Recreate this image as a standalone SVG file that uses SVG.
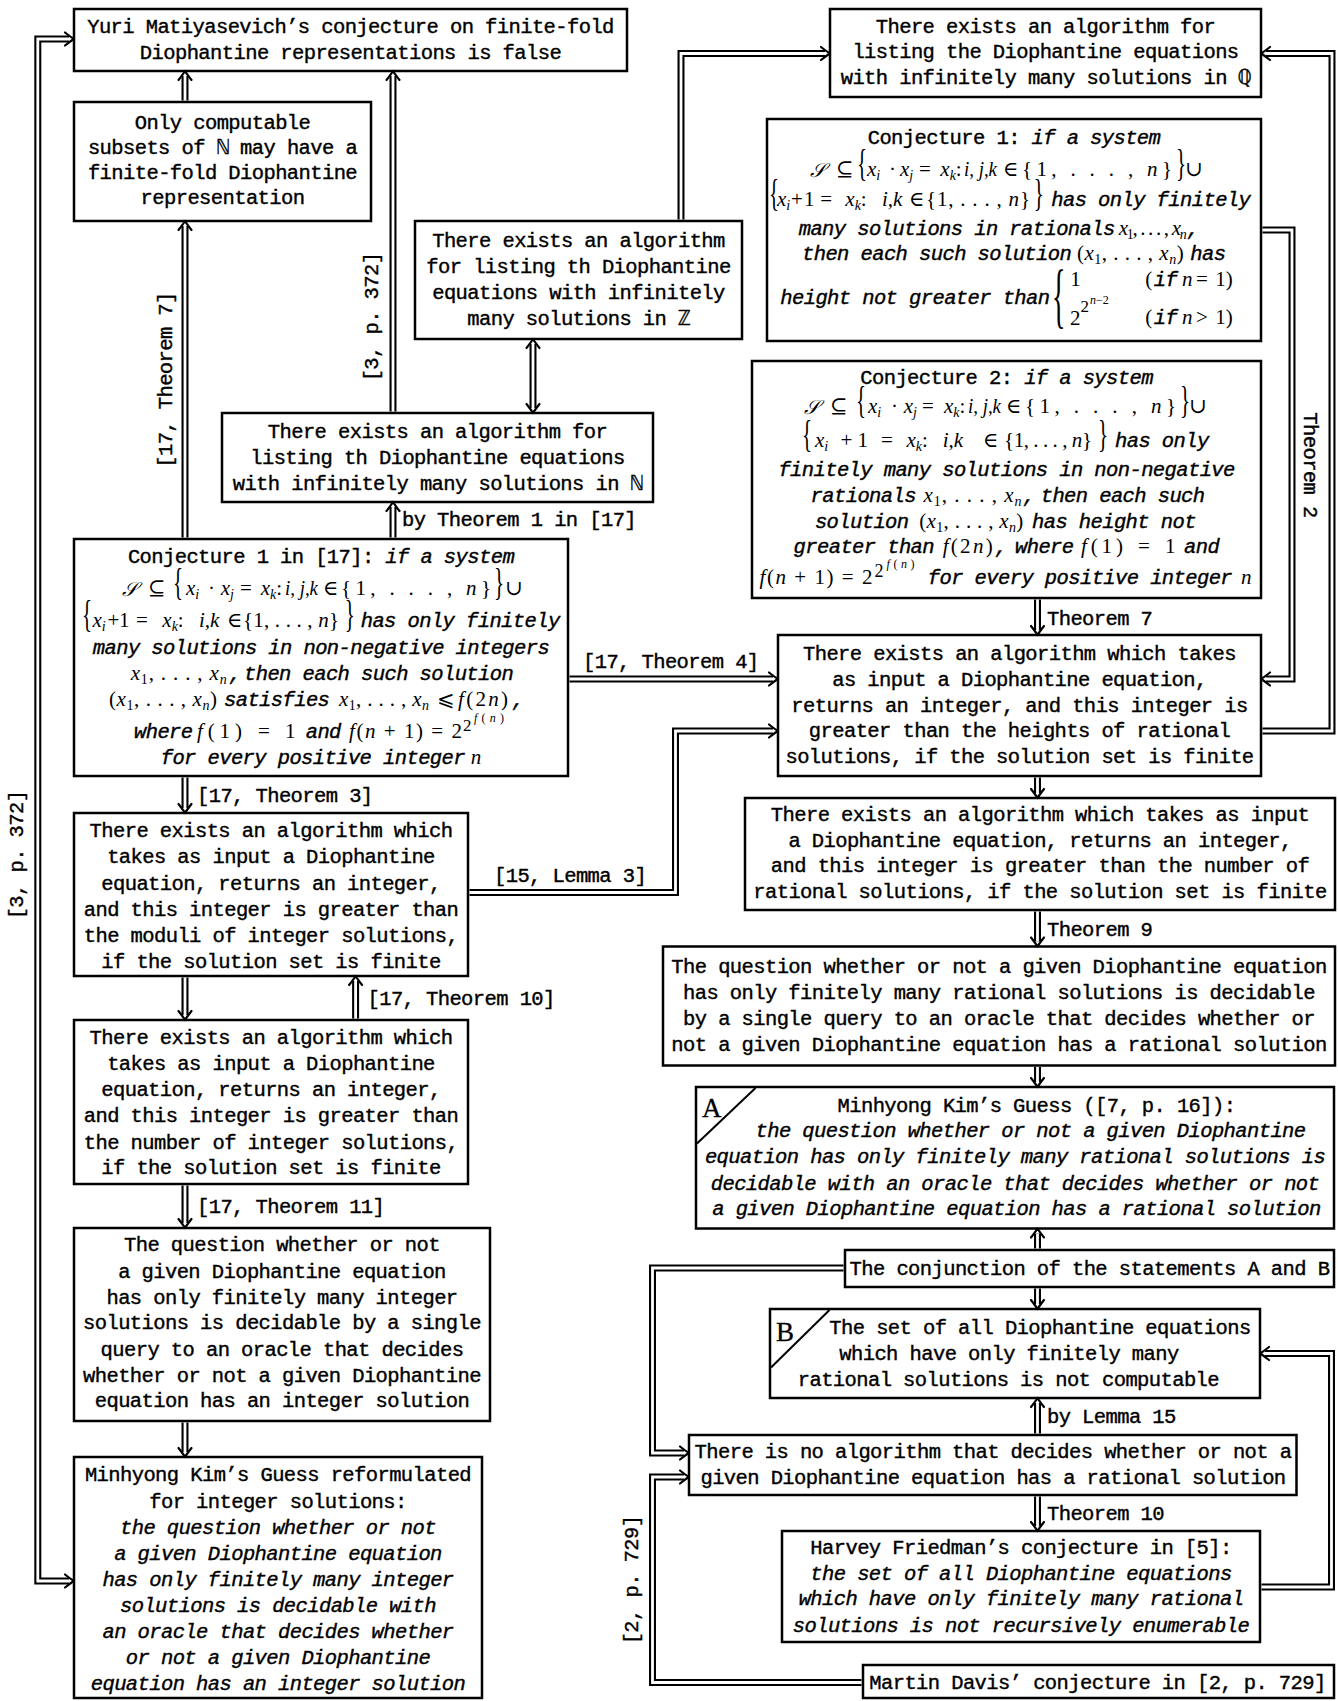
<svg xmlns="http://www.w3.org/2000/svg" xmlns:xlink="http://www.w3.org/1999/xlink" width="1338" height="1701" viewBox="0 0 1338 1701">
<style>
.box{fill:#fff;stroke:#000;stroke-width:2.5}
.t{font-family:"Liberation Mono","DejaVu Sans Mono",monospace;font-size:20.5px;letter-spacing:-0.6px;fill:#000;stroke:#000;stroke-width:0.4}
.c{text-anchor:middle}
.i{font-style:italic}
.m{font-family:"Liberation Serif","DejaVu Serif",serif;font-size:21px;fill:#000}
.mi{font-style:italic}
.s{font-size:14px}
.cal{font-family:"DejaVu Serif","DejaVu Sans",serif;font-size:20px;font-style:italic}
.dl{fill:none;stroke:#000;stroke-width:7}
.dw{fill:none;stroke:#fff;stroke-width:2.8}
.ah{fill:none;stroke:#000;stroke-width:2.2;stroke-linecap:round;stroke-linejoin:round}
.thin{stroke:#000;stroke-width:2}
.big{font-family:"Liberation Serif",serif;font-size:27px;fill:#000;stroke:#000;stroke-width:0.3}
</style>
<defs>
<path id="ah" class="ah" d="M-9,-6.5 Q-3,-1.8 0,0 Q-3,1.8 -9,6.5"/>
</defs>
<rect width="1338" height="1701" fill="#fff"/>

<g id="n-yuri">
<rect class="box" x="74" y="9" width="553" height="62"/>
<text class="t c" x="350.5" y="33">Yuri Matiyasevich’s conjecture on finite-fold</text>
<text class="t c" x="350.5" y="58.5">Diophantine representations is false</text>
</g>

<g id="n-only">
<rect class="box" x="74" y="102" width="297" height="119"/>
<text class="t c" x="222.5" y="128.5">Only computable</text>
<text class="t c" x="222.5" y="153.5">subsets of ℕ may have a</text>
<text class="t c" x="222.5" y="179">finite-fold Diophantine</text>
<text class="t c" x="222.5" y="204">representation</text>
</g>

<g id="n-z">
<rect class="box" x="415" y="221" width="327" height="118"/>
<text class="t c" x="578.5" y="246.5">There exists an algorithm</text>
<text class="t c" x="578.5" y="272.5">for listing th Diophantine</text>
<text class="t c" x="578.5" y="298.5">equations with infinitely</text>
<text class="t c" x="578.5" y="324.5">many solutions in ℤ</text>
</g>

<g id="n-n">
<rect class="box" x="222" y="413" width="431" height="89"/>
<text class="t c" x="437.5" y="437.5">There exists an algorithm for</text>
<text class="t c" x="437.5" y="463.5">listing th Diophantine equations</text>
<text class="t c" x="437.5" y="489.5">with infinitely many solutions in ℕ</text>
</g>

<g id="n-conj17">
<rect class="box" x="74" y="539" width="494" height="237"/>
<text class="t c" x="321" y="562.5">Conjecture 1 in [17]: <tspan class="i">if a system</tspan></text>
<text class="cal" x="122" y="596">𝒮</text>
<text class="m" x="148" y="595">⊆</text>
<text class="m" transform="translate(173,595) scale(1,1.85)">{</text>
<text class="m" x="186" y="595"><tspan class="mi">x</tspan><tspan class="s mi" dy="4">i</tspan></text>
<text class="m" x="208" y="595">·</text>
<text class="m" x="220.7" y="595"><tspan class="mi">x</tspan><tspan class="s mi" dy="4">j</tspan></text>
<text class="m" x="240" y="595">=</text>
<text class="m" x="260.7" y="595"><tspan class="mi">x</tspan><tspan class="s mi" dy="4">k</tspan><tspan dy="-4">:</tspan></text>
<text class="m mi" x="285" y="595" textLength="33" lengthAdjust="spacingAndGlyphs">i, j,k</text>
<text class="m" x="323" y="595">∈</text>
<text class="m" x="341" y="595" textLength="150" lengthAdjust="spacing">{1, . . . , <tspan class="mi">n</tspan>}</text>
<text class="m" transform="translate(494,595) scale(1,1.85)">}</text>
<text class="m" x="505" y="595">∪</text>
<text class="m" transform="translate(82,627) scale(1,1.85)">{</text>
<text class="m" x="92.5" y="627"><tspan class="mi">x</tspan><tspan class="s mi" dy="4">i</tspan></text>
<text class="m" x="107.5" y="627">+</text>
<text class="m" x="119" y="627">1</text>
<text class="m" x="136" y="627">=</text>
<text class="m" x="162.3" y="627"><tspan class="mi">x</tspan><tspan class="s mi" dy="4">k</tspan><tspan dy="-4">:</tspan></text>
<text class="m mi" x="199" y="627">i,k</text>
<text class="m" x="227" y="627">∈</text>
<text class="m" x="243" y="627" textLength="96" lengthAdjust="spacing">{1, . . . , <tspan class="mi">n</tspan>}</text>
<text class="m" transform="translate(344.7,627) scale(1,1.85)">}</text>
<text class="t i" x="360.7" y="627">has only finitely</text>
<text class="t c i" x="321" y="653.5">many solutions in non-negative integers</text>
<text class="m" x="130.7" y="679.5" textLength="96" lengthAdjust="spacing"><tspan class="mi">x</tspan><tspan class="s" dy="4">1</tspan><tspan dy="-4">, . . . , </tspan><tspan class="mi">x</tspan><tspan class="s mi" dy="4">n</tspan></text>
<text class="t i" x="229" y="679.5">,</text>
<text class="t i" x="244" y="679.5">then each such solution</text>
<text class="m" x="109" y="706" textLength="108" lengthAdjust="spacing">(<tspan class="mi">x</tspan><tspan class="s" dy="4">1</tspan><tspan dy="-4">, . . . , </tspan><tspan class="mi">x</tspan><tspan class="s mi" dy="4">n</tspan><tspan dy="-4">)</tspan></text>
<text class="t i" x="224" y="706">satisfies</text>
<text class="m" x="339" y="706" textLength="90" lengthAdjust="spacing"><tspan class="mi">x</tspan><tspan class="s" dy="4">1</tspan><tspan dy="-4">, . . . , </tspan><tspan class="mi">x</tspan><tspan class="s mi" dy="4">n</tspan></text>
<text class="m" x="437" y="706">⩽</text>
<text class="m" x="458" y="706" textLength="50" lengthAdjust="spacing"><tspan class="mi">f</tspan>(2<tspan class="mi">n</tspan>)</text>
<text class="t i" x="512" y="706">,</text>
<text class="t i" x="134" y="738">where</text>
<text class="m" x="197" y="738" textLength="45" lengthAdjust="spacing"><tspan class="mi">f</tspan>(1)</text>
<text class="m" x="258" y="738">=</text>
<text class="m" x="285" y="738">1</text>
<text class="t i" x="305.7" y="738">and</text>
<text class="m" x="349" y="738" textLength="113" lengthAdjust="spacing"><tspan class="mi">f</tspan>(<tspan class="mi">n</tspan> + 1) = 2</text>
<text class="m" x="463" y="731" style="font-size:17px">2</text>
<text class="m" x="474" y="722" style="font-size:12px" textLength="30" lengthAdjust="spacing"><tspan class="mi">f</tspan>(<tspan class="mi">n</tspan>)</text>
<text class="t i" x="160.7" y="763.5">for every positive integer</text>
<text class="m mi" x="470.7" y="763.5">n</text>
</g>

<g id="n-moduli">
<rect class="box" x="74" y="813" width="394" height="163"/>
<text class="t c" x="271" y="837">There exists an algorithm which</text>
<text class="t c" x="271" y="863">takes as input a Diophantine</text>
<text class="t c" x="271" y="890">equation, returns an integer,</text>
<text class="t c" x="271" y="916">and this integer is greater than</text>
<text class="t c" x="271" y="942">the moduli of integer solutions,</text>
<text class="t c" x="271" y="968">if the solution set is finite</text>
</g>

<g id="n-numint">
<rect class="box" x="74" y="1020" width="394" height="164"/>
<text class="t c" x="271" y="1044">There exists an algorithm which</text>
<text class="t c" x="271" y="1070">takes as input a Diophantine</text>
<text class="t c" x="271" y="1096">equation, returns an integer,</text>
<text class="t c" x="271" y="1122">and this integer is greater than</text>
<text class="t c" x="271" y="1148.5">the number of integer solutions,</text>
<text class="t c" x="271" y="1174">if the solution set is finite</text>
</g>

<g id="n-questint">
<rect class="box" x="74" y="1228" width="416" height="193"/>
<text class="t c" x="282" y="1251">The question whether or not</text>
<text class="t c" x="282" y="1278">a given Diophantine equation</text>
<text class="t c" x="282" y="1303.5">has only finitely many integer</text>
<text class="t c" x="282" y="1329">solutions is decidable by a single</text>
<text class="t c" x="282" y="1356">query to an oracle that decides</text>
<text class="t c" x="282" y="1381.5">whether or not a given Diophantine</text>
<text class="t c" x="282" y="1407">equation has an integer solution</text>
</g>

<g id="n-minhint">
<rect class="box" x="74" y="1457" width="408" height="241"/>
<text class="t c" x="278" y="1481">Minhyong Kim’s Guess reformulated</text>
<text class="t c" x="278" y="1507.5">for integer solutions:</text>
<text class="t c i" x="278" y="1534">the question whether or not</text>
<text class="t c i" x="278" y="1560">a given Diophantine equation</text>
<text class="t c i" x="278" y="1586">has only finitely many integer</text>
<text class="t c i" x="278" y="1612">solutions is decidable with</text>
<text class="t c i" x="278" y="1638">an oracle that decides whether</text>
<text class="t c i" x="278" y="1664">or not a given Diophantine</text>
<text class="t c i" x="278" y="1690">equation has an integer solution</text>
</g>

<g id="n-q">
<rect class="box" x="830" y="9" width="431" height="88"/>
<text class="t c" x="1045.5" y="33">There exists an algorithm for</text>
<text class="t c" x="1045.5" y="58">listing the Diophantine equations</text>
<text class="t c" x="1045.5" y="84">with infinitely many solutions in ℚ</text>
</g>

<g id="n-conj1">
<rect class="box" x="767" y="119" width="494" height="222"/>
<text class="t c" x="1014" y="144">Conjecture 1: <tspan class="i">if a system</tspan></text>
<text class="cal" x="810.3" y="177">𝒮</text>
<text class="m" x="836" y="176">⊆</text>
<text class="m" transform="translate(857,176) scale(1,1.85)">{</text>
<text class="m" x="867" y="176"><tspan class="mi">x</tspan><tspan class="s mi" dy="4">i</tspan></text>
<text class="m" x="889" y="176">·</text>
<text class="m" x="900" y="176"><tspan class="mi">x</tspan><tspan class="s mi" dy="4">j</tspan></text>
<text class="m" x="919" y="176">=</text>
<text class="m" x="940.3" y="176"><tspan class="mi">x</tspan><tspan class="s mi" dy="4">k</tspan><tspan dy="-4">:</tspan></text>
<text class="m mi" x="964" y="176" textLength="33" lengthAdjust="spacingAndGlyphs">i, j,k</text>
<text class="m" x="1003" y="176">∈</text>
<text class="m" x="1022" y="176" textLength="150" lengthAdjust="spacing">{1, . . . , <tspan class="mi">n</tspan>}</text>
<text class="m" transform="translate(1176,176) scale(1,1.85)">}</text>
<text class="m" x="1185" y="176">∪</text>
<text class="m" transform="translate(769,206) scale(1,1.85)">{</text>
<text class="m" x="777" y="206"><tspan class="mi">x</tspan><tspan class="s mi" dy="4">i</tspan></text>
<text class="m" x="791" y="206">+</text>
<text class="m" x="804" y="206">1</text>
<text class="m" x="820.3" y="206">=</text>
<text class="m" x="845.3" y="206"><tspan class="mi">x</tspan><tspan class="s mi" dy="4">k</tspan><tspan dy="-4">:</tspan></text>
<text class="m mi" x="882" y="206">i,k</text>
<text class="m" x="909" y="206">∈</text>
<text class="m" x="926" y="206" textLength="104" lengthAdjust="spacing">{1, . . . , <tspan class="mi">n</tspan>}</text>
<text class="m" transform="translate(1033.7,206) scale(1,1.85)">}</text>
<text class="t i" x="1051.3" y="206">has only finitely</text>
<text class="t i" x="798.7" y="234.5">many solutions in rationals</text>
<text class="m" x="1118.7" y="234.5" textLength="68" lengthAdjust="spacing"><tspan class="mi">x</tspan><tspan class="s" dy="4">1</tspan><tspan dy="-4">, . . . , </tspan><tspan class="mi">x</tspan><tspan class="s mi" dy="4">n</tspan></text>
<text class="t i" x="1187" y="234.5">,</text>
<text class="t i" x="802" y="259.5">then each such solution</text>
<text class="m" x="1077" y="259.5" textLength="106.7" lengthAdjust="spacing">(<tspan class="mi">x</tspan><tspan class="s" dy="4">1</tspan><tspan dy="-4">, . . . , </tspan><tspan class="mi">x</tspan><tspan class="s mi" dy="4">n</tspan><tspan dy="-4">)</tspan></text>
<text class="t i" x="1190.3" y="259.5">has</text>
<text class="t i" x="780.3" y="303.5">height not greater than</text>
<text class="m" style="font-size:28px" transform="translate(1052,319) scale(1,2.55)">{</text>
<text class="m" x="1070.3" y="285.5">1</text>
<text class="m" x="1145.3" y="285.5">(</text>
<text class="t i" x="1153.7" y="285.5">if</text>
<text class="m mi" x="1182" y="285.5">n</text>
<text class="m" x="1196" y="285.5">=</text>
<text class="m" x="1215.3" y="285.5">1)</text>
<text class="m" x="1070" y="325">2</text>
<text class="m" x="1080.5" y="312" style="font-size:17px">2</text>
<text class="m" x="1090" y="304" style="font-size:12px"><tspan class="mi">n</tspan>−2</text>
<text class="m" x="1145.3" y="324">(</text>
<text class="t i" x="1153.7" y="324">if</text>
<text class="m mi" x="1182" y="324">n</text>
<text class="m" x="1196" y="324">&gt;</text>
<text class="m" x="1215.3" y="324">1)</text>
</g>

<g id="n-conj2">
<rect class="box" x="752" y="361" width="509" height="237"/>
<text class="t c" x="1006.6" y="384">Conjecture 2: <tspan class="i">if a system</tspan></text>
<text class="cal" x="804" y="414">𝒮</text>
<text class="m" x="830" y="413">⊆</text>
<text class="m" transform="translate(856,413) scale(1,1.85)">{</text>
<text class="m" x="868" y="413"><tspan class="mi">x</tspan><tspan class="s mi" dy="4">i</tspan></text>
<text class="m" x="891" y="413">·</text>
<text class="m" x="903.7" y="413"><tspan class="mi">x</tspan><tspan class="s mi" dy="4">j</tspan></text>
<text class="m" x="922" y="413">=</text>
<text class="m" x="944" y="413"><tspan class="mi">x</tspan><tspan class="s mi" dy="4">k</tspan><tspan dy="-4">:</tspan></text>
<text class="m mi" x="968" y="413" textLength="33" lengthAdjust="spacingAndGlyphs">i, j,k</text>
<text class="m" x="1006" y="413">∈</text>
<text class="m" x="1025" y="413" textLength="151" lengthAdjust="spacing">{1, . . . , <tspan class="mi">n</tspan>}</text>
<text class="m" transform="translate(1180,413) scale(1,1.85)">}</text>
<text class="m" x="1189" y="413">∪</text>
<text class="m" transform="translate(802,447) scale(1,1.85)">{</text>
<text class="m" x="815" y="447"><tspan class="mi">x</tspan><tspan class="s mi" dy="4">i</tspan></text>
<text class="m" x="840.4" y="447">+</text>
<text class="m" x="857.5" y="447">1</text>
<text class="m" x="881" y="447">=</text>
<text class="m" x="906.5" y="447"><tspan class="mi">x</tspan><tspan class="s mi" dy="4">k</tspan><tspan dy="-4">:</tspan></text>
<text class="m mi" x="942.7" y="447">i,k</text>
<text class="m" x="983" y="447">∈</text>
<text class="m" x="1004" y="447" textLength="88" lengthAdjust="spacing">{1, . . . , <tspan class="mi">n</tspan>}</text>
<text class="m" transform="translate(1098,447) scale(1,1.85)">}</text>
<text class="t i" x="1115" y="447">has only</text>
<text class="t c i" x="1006.6" y="475.5">finitely many solutions in non-negative</text>
<text class="t i" x="810.6" y="502">rationals</text>
<text class="m" x="923.5" y="502" textLength="98" lengthAdjust="spacing"><tspan class="mi">x</tspan><tspan class="s" dy="4">1</tspan><tspan dy="-4">, . . . , </tspan><tspan class="mi">x</tspan><tspan class="s mi" dy="4">n</tspan></text>
<text class="t i" x="1023" y="502">,</text>
<text class="t i" x="1040.7" y="502">then each such</text>
<text class="t i" x="814.9" y="527.5">solution</text>
<text class="m" x="919.3" y="527.5" textLength="104" lengthAdjust="spacing">(<tspan class="mi">x</tspan><tspan class="s" dy="4">1</tspan><tspan dy="-4">, . . . , </tspan><tspan class="mi">x</tspan><tspan class="s mi" dy="4">n</tspan><tspan dy="-4">)</tspan></text>
<text class="t i" x="1032" y="527.5">has height not</text>
<text class="t i" x="793.6" y="552.5">greater than</text>
<text class="m" x="942.7" y="552.5" textLength="50" lengthAdjust="spacing"><tspan class="mi">f</tspan>(2<tspan class="mi">n</tspan>)</text>
<text class="t i" x="995" y="552.5">,</text>
<text class="t i" x="1015" y="552.5">where</text>
<text class="m" x="1081" y="552.5" textLength="42" lengthAdjust="spacing"><tspan class="mi">f</tspan>(1)</text>
<text class="m" x="1138" y="552.5">=</text>
<text class="m" x="1165" y="552.5">1</text>
<text class="t i" x="1184" y="552.5">and</text>
<text class="m" x="759.5" y="584" textLength="113" lengthAdjust="spacing"><tspan class="mi">f</tspan>(<tspan class="mi">n</tspan> + 1) = 2</text>
<text class="m" x="874.5" y="577" style="font-size:18px">2</text>
<text class="m" x="886.5" y="568" style="font-size:12px" textLength="28" lengthAdjust="spacing"><tspan class="mi">f</tspan>(<tspan class="mi">n</tspan>)</text>
<text class="t i" x="927.8" y="584">for every positive integer</text>
<text class="m mi" x="1241" y="584">n</text>
</g>

<g id="n-heights">
<rect class="box" x="778" y="635" width="483" height="141"/>
<text class="t c" x="1019.5" y="659.5">There exists an algorithm which takes</text>
<text class="t c" x="1019.5" y="685.5">as input a Diophantine equation,</text>
<text class="t c" x="1019.5" y="711.5">returns an integer, and this integer is</text>
<text class="t c" x="1019.5" y="737">greater than the heights of rational</text>
<text class="t c" x="1019.5" y="763">solutions, if the solution set is finite</text>
</g>

<g id="n-numrat">
<rect class="box" x="745" y="798" width="590" height="112"/>
<text class="t c" x="1040" y="821">There exists an algorithm which takes as input</text>
<text class="t c" x="1040" y="847">a Diophantine equation, returns an integer,</text>
<text class="t c" x="1040" y="872">and this integer is greater than the number of</text>
<text class="t c" x="1040" y="898">rational solutions, if the solution set is finite</text>
</g>

<g id="n-questrat">
<rect class="box" x="663" y="946.5" width="672" height="119"/>
<text class="t c" x="999" y="973">The question whether or not a given Diophantine equation</text>
<text class="t c" x="999" y="999">has only finitely many rational solutions is decidable</text>
<text class="t c" x="999" y="1025">by a single query to an oracle that decides whether or</text>
<text class="t c" x="999" y="1051">not a given Diophantine equation has a rational solution</text>
</g>

<g id="n-a">
<rect class="box" x="696" y="1087" width="638" height="141.5"/>
<line class="thin" x1="697" y1="1143.5" x2="755.5" y2="1088"/>
<text class="big" x="702" y="1117">A</text>
<text class="t c" x="1036.5" y="1112">Minhyong Kim’s Guess ([7, p. 16]):</text>
<text class="t c i" x="1030.5" y="1137">the question whether or not a given Diophantine</text>
<text class="t c i" x="1015" y="1163">equation has only finitely many rational solutions is</text>
<text class="t c i" x="1015" y="1189.5">decidable with an oracle that decides whether or not</text>
<text class="t c i" x="1016.5" y="1215">a given Diophantine equation has a rational solution</text>
</g>

<g id="n-conjunction">
<rect class="box" x="845" y="1250" width="489" height="37"/>
<text class="t c" x="1089.5" y="1274.5">The conjunction of the statements A and B</text>
</g>

<g id="n-b">
<rect class="box" x="770" y="1309" width="490" height="89"/>
<line class="thin" x1="771" y1="1367.5" x2="829.5" y2="1310"/>
<text class="big" x="776" y="1341">B</text>
<text class="t c" x="1040" y="1334">The set of all Diophantine equations</text>
<text class="t c" x="1009" y="1360">which have only finitely many</text>
<text class="t c" x="1008.4" y="1385.5">rational solutions is not computable</text>
</g>

<g id="n-noalg">
<rect class="box" x="689" y="1435" width="607.5" height="60"/>
<text class="t c" x="993" y="1458">There is no algorithm that decides whether or not a</text>
<text class="t c" x="993" y="1483.5">given Diophantine equation has a rational solution</text>
</g>

<g id="n-harvey">
<rect class="box" x="782" y="1531" width="478" height="111"/>
<text class="t c" x="1021" y="1554">Harvey Friedman’s conjecture in [5]:</text>
<text class="t c i" x="1021" y="1579.5">the set of all Diophantine equations</text>
<text class="t c i" x="1021" y="1605">which have only finitely many rational</text>
<text class="t c i" x="1021" y="1632">solutions is not recursively enumerable</text>
</g>

<g id="n-martin">
<rect class="box" x="863" y="1665" width="471" height="33"/>
<text class="t c" x="1097.5" y="1689">Martin Davis’ conjecture in [2, p. 729]</text>
</g>

<g id="connectors">
<path class="dl" d="M185,100.5 V76"/><path class="dw" d="M185,100.5 V76"/><use xlink:href="#ah" transform="translate(185,71) rotate(-90)"/>
<path class="dl" d="M185,537.5 V226"/><path class="dw" d="M185,537.5 V226"/><use xlink:href="#ah" transform="translate(185,221) rotate(-90)"/>
<path class="dl" d="M393,411.5 V76"/><path class="dw" d="M393,411.5 V76"/><use xlink:href="#ah" transform="translate(393,71) rotate(-90)"/>
<path class="dl" d="M533,344 V408"/><path class="dw" d="M533,344 V408"/><use xlink:href="#ah" transform="translate(533,339) rotate(-90)"/><use xlink:href="#ah" transform="translate(533,413) rotate(90)"/>
<path class="dl" d="M393,537.5 V507"/><path class="dw" d="M393,537.5 V507"/><use xlink:href="#ah" transform="translate(393,502) rotate(-90)"/>
<path class="dl" d="M681,219.5 V53.5 H825"/><path class="dw" d="M681,219.5 V53.5 H825"/><use xlink:href="#ah" transform="translate(830,53.5)"/>
<path class="dl" d="M1262.5,230 H1292 V679 H1266"/><path class="dw" d="M1262.5,230 H1292 V679 H1266"/><use xlink:href="#ah" transform="translate(1261,679) rotate(180)"/>
<path class="dl" d="M1262.5,731 H1332 V53.5 H1266"/><path class="dw" d="M1262.5,731 H1332 V53.5 H1266"/><use xlink:href="#ah" transform="translate(1261,53.5) rotate(180)"/>
<path class="dl" d="M569.5,679 H773"/><path class="dw" d="M569.5,679 H773"/><use xlink:href="#ah" transform="translate(778,679)"/>
<path class="dl" d="M469.5,892.5 H675.5 V731 H773"/><path class="dw" d="M469.5,892.5 H675.5 V731 H773"/><use xlink:href="#ah" transform="translate(778,731)"/>
<path class="dl" d="M1037.5,599.5 V630"/><path class="dw" d="M1037.5,599.5 V630"/><use xlink:href="#ah" transform="translate(1037.5,635) rotate(90)"/>
<path class="dl" d="M1037.5,777.5 V793"/><path class="dw" d="M1037.5,777.5 V793"/><use xlink:href="#ah" transform="translate(1037.5,798) rotate(90)"/>
<path class="dl" d="M1037.5,911.5 V941.5"/><path class="dw" d="M1037.5,911.5 V941.5"/><use xlink:href="#ah" transform="translate(1037.5,946.5) rotate(90)"/>
<path class="dl" d="M1037.5,1067 V1082"/><path class="dw" d="M1037.5,1067 V1082"/><use xlink:href="#ah" transform="translate(1037.5,1087) rotate(90)"/>
<path class="dl" d="M1037.5,1248.5 V1233.5"/><path class="dw" d="M1037.5,1248.5 V1233.5"/><use xlink:href="#ah" transform="translate(1037.5,1228.5) rotate(-90)"/>
<path class="dl" d="M1037.5,1288.5 V1304"/><path class="dw" d="M1037.5,1288.5 V1304"/><use xlink:href="#ah" transform="translate(1037.5,1309) rotate(90)"/>
<path class="dl" d="M1037.5,1433.5 V1403"/><path class="dw" d="M1037.5,1433.5 V1403"/><use xlink:href="#ah" transform="translate(1037.5,1398) rotate(-90)"/>
<path class="dl" d="M1037.5,1496.5 V1526"/><path class="dw" d="M1037.5,1496.5 V1526"/><use xlink:href="#ah" transform="translate(1037.5,1531) rotate(90)"/>
<path class="dl" d="M1261.5,1587 H1331.5 V1353.5 H1265"/><path class="dw" d="M1261.5,1587 H1331.5 V1353.5 H1265"/><use xlink:href="#ah" transform="translate(1260,1353.5) rotate(180)"/>
<path class="dl" d="M843.5,1268 H652.5 V1453 H684"/><path class="dw" d="M843.5,1268 H652.5 V1453 H684"/><use xlink:href="#ah" transform="translate(689,1453)"/>
<path class="dl" d="M861.5,1682.5 H652.5 V1477 H684"/><path class="dw" d="M861.5,1682.5 H652.5 V1477 H684"/><use xlink:href="#ah" transform="translate(689,1477)"/>
<path class="dl" d="M69,39 H37.8 V1581 H69"/><path class="dw" d="M69,39 H37.8 V1581 H69"/><use xlink:href="#ah" transform="translate(74,39)"/><use xlink:href="#ah" transform="translate(74,1581)"/>
<path class="dl" d="M185,777.5 V808"/><path class="dw" d="M185,777.5 V808"/><use xlink:href="#ah" transform="translate(185,813) rotate(90)"/>
<path class="dl" d="M185,977.5 V1015"/><path class="dw" d="M185,977.5 V1015"/><use xlink:href="#ah" transform="translate(185,1020) rotate(90)"/>
<path class="dl" d="M355.6,1018.5 V981"/><path class="dw" d="M355.6,1018.5 V981"/><use xlink:href="#ah" transform="translate(355.6,976) rotate(-90)"/>
<path class="dl" d="M185,1185.5 V1223"/><path class="dw" d="M185,1185.5 V1223"/><use xlink:href="#ah" transform="translate(185,1228) rotate(90)"/>
<path class="dl" d="M185,1422.5 V1452"/><path class="dw" d="M185,1422.5 V1452"/><use xlink:href="#ah" transform="translate(185,1457) rotate(90)"/>
</g>

<g id="labels">
<text class="t c" transform="translate(172,380) rotate(-90)">[17, Theorem 7]</text>
<text class="t c" transform="translate(378,317) rotate(-90)">[3, p. 372]</text>
<text class="t c" transform="translate(23,855) rotate(-90)">[3, p. 372]</text>
<text class="t c" transform="translate(638,1580) rotate(-90)">[2, p. 729]</text>
<text class="t c" transform="translate(1304,465) rotate(90)">Theorem 2</text>
<text class="t" x="402" y="526">by Theorem 1 in [17]</text>
<text class="t" x="583" y="668">[17, Theorem 4]</text>
<text class="t" x="197" y="801.5">[17, Theorem 3]</text>
<text class="t" x="494" y="882">[15, Lemma 3]</text>
<text class="t" x="367.5" y="1005">[17, Theorem 10]</text>
<text class="t" x="197" y="1212.5">[17, Theorem 11]</text>
<text class="t" x="1047" y="624.5">Theorem 7</text>
<text class="t" x="1047" y="935.5">Theorem 9</text>
<text class="t" x="1047" y="1423">by Lemma 15</text>
<text class="t" x="1047" y="1520">Theorem 10</text>
</g>
</svg>
